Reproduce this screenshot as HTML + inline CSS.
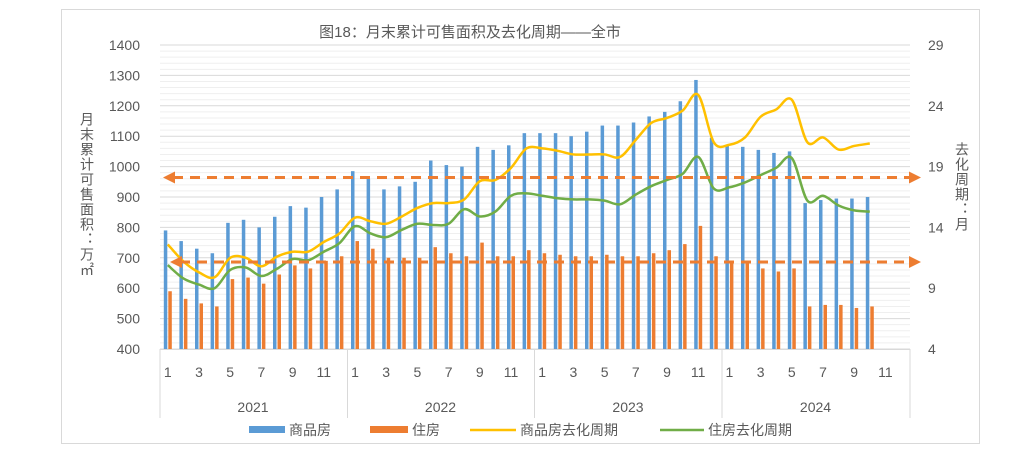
<!DOCTYPE html>
<html><head><meta charset="utf-8"><style>
body{margin:0;background:#fff;width:1027px;height:452px;overflow:hidden}
svg text{font-family:"Liberation Sans","Noto Sans CJK SC",sans-serif;fill:#595959}
</style></head><body>
<svg id="s" width="1027" height="452" viewBox="0 0 1027 452" xmlns="http://www.w3.org/2000/svg">
<defs><filter id="gl" x="-5%" y="-100%" width="110%" height="300%"><feGaussianBlur stdDeviation="3"/></filter></defs>
<rect x="61.5" y="9.5" width="918" height="434" fill="#fff" stroke="#d9d9d9"/>
<text x="470" y="37" font-size="15" text-anchor="middle">图18：月末累计可售面积及去化周期——全市</text>
<g id="grid"></g><g id="bars"></g><g id="lines"></g><g id="ax"></g>
<g font-size="14">
<text x="87" y="112" writing-mode="tb" letter-spacing="1">月末累计可售面积：万㎡</text>
<text x="962" y="142" writing-mode="tb" letter-spacing="1">去化周期：月</text>
</g>
<g font-size="14">
<rect x="249" y="426" width="36" height="7" fill="#5b9bd5"/><text x="289" y="435">商品房</text>
<rect x="370" y="426" width="38" height="7" fill="#ed7d31"/><text x="412" y="435">住房</text>
<line x1="470" y1="430" x2="516" y2="430" stroke="#ffc000" stroke-width="2.5"/><text x="520" y="435">商品房去化周期</text>
<line x1="660" y1="430" x2="704" y2="430" stroke="#70ad47" stroke-width="2.5"/><text x="708" y="435">住房去化周期</text>
</g>
</svg>
<script>
const NS="http://www.w3.org/2000/svg";
function el(p,t,a,txt){const e=document.createElementNS(NS,t);for(const k in a)e.setAttribute(k,a[k]);if(txt!=null)e.textContent=txt;document.getElementById(p).appendChild(e);return e;}
const yL=v=>349-(v-400)*0.304, yR=v=>349-(v-4)*12.16, xm=i=>167.8+15.6*i;
for(let v=400;v<=1400;v+=20){el('grid','line',{x1:160,x2:910,y1:yL(v),y2:yL(v),stroke:v%100==0?'#d9d9d9':'#efefef','stroke-width':1});}
for(let v=400;v<=1400;v+=100)el('ax','text',{x:140,y:yL(v)+5,'font-size':14,'text-anchor':'end'},v);
for(let v=4;v<=29;v+=5)el('ax','text',{x:928,y:yR(v)+5,'font-size':14},v);
for(let m=0;m<24;m++)el('ax','text',{x:xm(2*m),y:377,'font-size':14,'text-anchor':'middle'},(2*m%12)+1);
[160,347.5,534.5,722,910].forEach(x=>el('ax','line',{x1:x,x2:x,y1:349,y2:418,stroke:'#d9d9d9'}));
el('ax','line',{x1:160,x2:910,y1:349.5,y2:349.5,stroke:'#d9d9d9'});
['2021','2022','2023','2024'].forEach((t,i)=>el('ax','text',{x:253+187.5*i,y:412,'font-size':14,'text-anchor':'middle'},t));
const blue=[790,755,730,715,815,825,800,835,870,865,900,925,985,960,925,935,950,1020,1005,1000,1065,1055,1070,1110,1110,1110,1100,1115,1135,1135,1145,1165,1180,1215,1285,1095,1070,1065,1055,1045,1050,880,890,895,895,900];
const or=[590,565,550,540,630,635,615,645,675,665,690,705,755,730,700,700,700,735,715,705,750,705,705,725,715,710,705,705,710,705,705,715,725,745,805,705,690,690,665,655,665,540,545,545,535,540];
blue.forEach((v,i)=>{el('bars','rect',{x:xm(i)-4,y:yL(v),width:3.5,height:349-yL(v),fill:'#5b9bd5'});el('bars','rect',{x:xm(i)+0.5,y:yL(or[i]),width:3.5,height:349-yL(or[i]),fill:'#ed7d31'});});
const yel=[12.6,11.2,10.3,9.9,11.5,11.5,10.8,11.6,12,12,12.8,13.5,14.8,14.5,14.3,14.9,15.6,16,16,16.3,17.8,17.9,18.9,20.5,20.5,20.3,20,20,20,19.8,21.2,22.6,23,23.6,24.9,21,20.8,21.4,23.1,23.7,24.5,21,21.4,20.4,20.7,20.9];
const grn=[10.9,9.8,9.3,9.0,10.5,10.7,10,10.6,11.4,11.3,12,12.7,14.1,13.5,13.2,13.8,14.3,14.2,14.3,15.5,14.9,15.3,16.6,16.8,16.6,16.4,16.3,16.3,16.2,15.9,16.7,17.4,17.9,18.4,19.8,17.2,17.3,17.7,18.3,18.9,19.7,16.2,16.6,15.8,15.4,15.3];
function path(a){const p=a.map((v,i)=>[xm(i),yR(v)]);let d='M'+p[0];for(let i=0;i<p.length-1;i++){const p0=p[i-1]||p[i],p1=p[i],p2=p[i+1],p3=p[i+2]||p2;const t=6;d+=' C'+(p1[0]+(p2[0]-p0[0])/t)+','+(p1[1]+(p2[1]-p0[1])/t)+' '+(p2[0]-(p3[0]-p1[0])/t)+','+(p2[1]-(p3[1]-p1[1])/t)+' '+p2;}return d;}
el('lines','path',{d:path(yel),fill:'none',stroke:'#ffc000','stroke-width':2.5});
el('lines','path',{d:path(grn),fill:'none',stroke:'#70ad47','stroke-width':2.5});
function arrow(y,x1,x2){el('lines','line',{x1:x1,x2:x2+6,y1:y,y2:y,stroke:'#a9d98a','stroke-width':12,opacity:0.8,filter:'url(#gl)'});
el('lines','line',{x1:x1+10,x2:x2-10,y1:y,y2:y,stroke:'#ed7d31','stroke-width':3,'stroke-dasharray':'10 7'});
el('lines','path',{d:`M${x1},${y} l12,-6 v12 z M${x2},${y} l-12,-6 v12 z`,fill:'#ed7d31'});}
arrow(177.5,163,921);arrow(262,170,921);
</script>
</body></html>
